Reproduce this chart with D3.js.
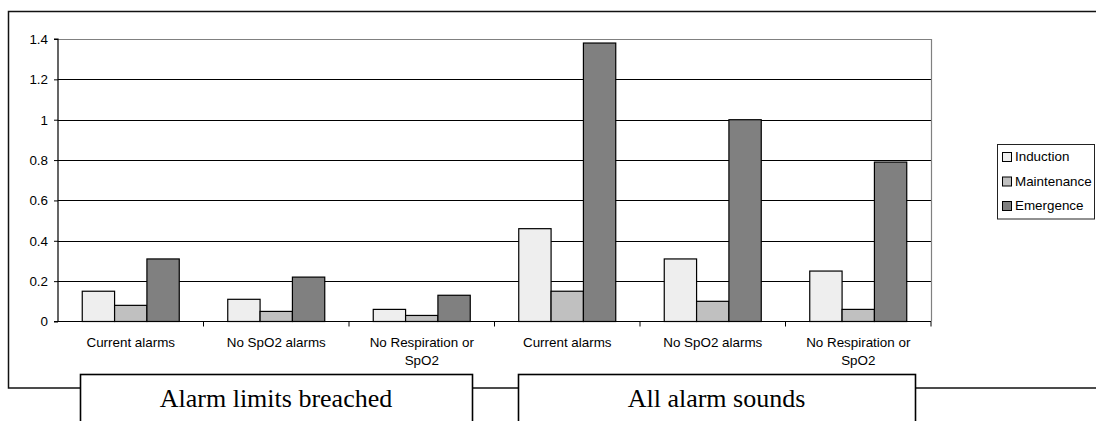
<!DOCTYPE html>
<html><head><meta charset="utf-8">
<script src="https://cdn.jsdelivr.net/npm/d3@7"></script>
<style>body{margin:0;background:#fff;} svg{display:block;}</style>
</head><body>
<script>
const categories = ["Current alarms","No SpO2 alarms","No Respiration or SpO2","Current alarms","No SpO2 alarms","No Respiration or SpO2"];
const seriesNames = ["Induction","Maintenance","Emergence"];
const induction   = [0.15,0.11,0.06,0.46,0.31,0.25];
const maintenance = [0.08,0.05,0.03,0.15,0.10,0.06];
const emergence   = [0.31,0.22,0.13,1.38,1.00,0.79];
const yTicks = [0,0.2,0.4,0.6,0.8,1,1.2,1.4];
const groupLabels = ["Alarm limits breached","All alarm sounds"];
const colors = ["#eeeeee","#c0c0c0","#808080"];

const W=1096,H=421;
const svg=d3.select("body").append("svg").attr("width",W).attr("height",H);
const font="Liberation Sans, Arial, sans-serif";

// outer chart border
svg.append("rect").attr("x",8.5).attr("y",11.5).attr("width",1100).attr("height",376.5)
  .attr("fill","#fff").attr("stroke","#111").attr("stroke-width",1.5);

const L=58,R=931,T=39,B=321.5;
const x=d3.scaleBand().domain(d3.range(categories.length)).range([L,R]).paddingInner(0).paddingOuter(0);
const y=d3.scaleLinear().domain([0,1.4]).range([B,T]);
const bw=x.bandwidth()/4.5;

// gridlines
svg.append("g").selectAll("line").data(yTicks.filter(t=>t>0&&t<1.4)).join("line")
  .attr("x1",L).attr("x2",R).attr("y1",d=>Math.round(y(d))+0.5).attr("y2",d=>Math.round(y(d))+0.5)
  .attr("stroke","#000").attr("stroke-width",1);
// plot border top/right grey
svg.append("path").attr("d",`M${L},${Math.round(T)+0.5}H${R+0.5}V${B}`).attr("fill","none").attr("stroke","#808080").attr("stroke-width",1.2);

// bars
const series=[induction,maintenance,emergence];
series.forEach((vals,si)=>{
  svg.append("g").selectAll("rect").data(vals).join("rect")
    .attr("x",(d,i)=>x(i)+x.bandwidth()/2-1.5*bw+si*bw)
    .attr("y",d=>y(d))
    .attr("width",bw).attr("height",d=>y(0)-y(d))
    .attr("fill",colors[si]).attr("stroke","#000").attr("stroke-width",1.2);
});

// y axis
const yAxis=d3.axisLeft(y).tickValues(yTicks).tickSize(4).tickPadding(6).tickFormat(d=>d3.format("")(+d.toFixed(1)));
const gy=svg.append("g").attr("transform",`translate(${L},0)`).call(yAxis);
gy.select(".domain").attr("stroke","#000").attr("stroke-width",1.2).attr("d",`M-4,${T}H0V${B}H-4`);
gy.selectAll(".tick line").attr("stroke","#000");
gy.selectAll("text").attr("font-family",font).attr("font-size","13.4px").attr("fill","#000");

// x axis
const xb=d3.scaleLinear().domain([0,categories.length]).range([L,R]);
svg.append("line").attr("x1",L).attr("x2",R).attr("y1",B).attr("y2",B).attr("stroke","#000").attr("stroke-width",1.2);
svg.append("g").selectAll("line").data(d3.range(1,categories.length+1)).join("line")
  .attr("x1",d=>xb(d)).attr("x2",d=>xb(d)).attr("y1",B).attr("y2",B+5).attr("stroke","#000").attr("stroke-width",1);

// category labels
const wrap={"No Respiration or SpO2":["No Respiration or","SpO2"]};
categories.forEach((c,i)=>{
  const lines=wrap[c]||[c];
  const t=svg.append("text").attr("x",x(i)+x.bandwidth()/2).attr("y",347)
    .attr("text-anchor","middle").attr("font-family",font).attr("font-size","13.4px").attr("fill","#000");
  lines.forEach((ln,k)=>t.append("tspan").attr("x",x(i)+x.bandwidth()/2).attr("dy",k?18:0).text(ln));
});

// legend
const lg=svg.append("g");
lg.append("rect").attr("x",997.5).attr("y",144.5).attr("width",97).attr("height",74.5).attr("fill","#fff").attr("stroke","#222").attr("stroke-width",1);
seriesNames.forEach((n,i)=>{
  const cy=156+i*24.5;
  lg.append("rect").attr("x",1002.5).attr("y",cy-3.5).attr("width",9).attr("height",9).attr("fill",colors[i]).attr("stroke","#000").attr("stroke-width",1);
  lg.append("text").attr("x",1015).attr("y",cy+5).attr("font-family",font).attr("font-size","13.4px").attr("fill","#000").text(n);
});

// group boxes
const boxes=[[80,472],[518,915]];
boxes.forEach((b,i)=>{
  svg.append("rect").attr("x",b[0]+0.5).attr("y",374.5).attr("width",b[1]-b[0]).attr("height",60)
    .attr("fill","#fff").attr("stroke","#000").attr("stroke-width",1.6);
  svg.append("text").attr("x",(b[0]+b[1])/2).attr("y",407).attr("text-anchor","middle")
    .attr("font-family","Liberation Serif, Times New Roman, serif").attr("font-size","26px").attr("fill","#000").text(groupLabels[i]);
});
</script>
</body></html>
